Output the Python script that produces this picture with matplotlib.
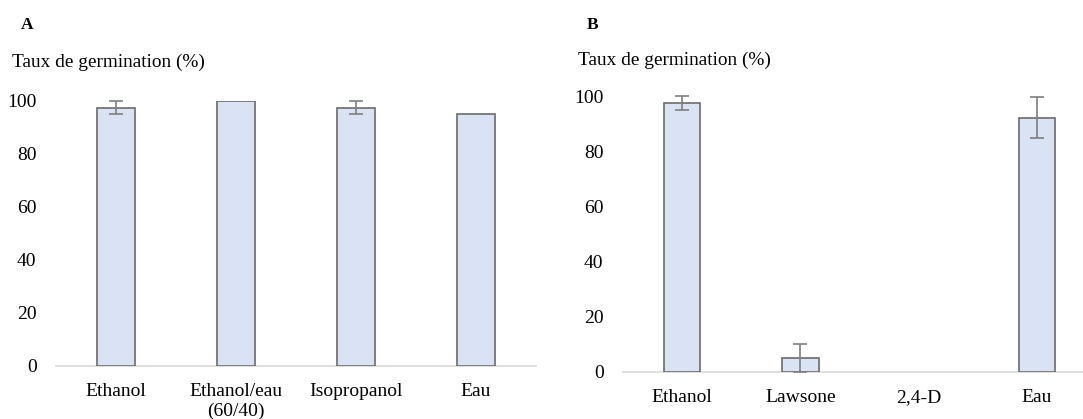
import matplotlib
matplotlib.use("Agg")
from matplotlib import pyplot as plt
import numpy as np

plt.rcParams["font.family"] = ["Liberation Serif", "DejaVu Serif"]

# Panel A : solvants
cat_a = ["Ethanol", "Ethanol/eau\n(60/40)", "Isopropanol", "Eau"]
val_a = [97.5, 100, 97.5, 95]
err_a = [2.5, 0, 2.5, 0]

# Panel B : traitements
cat_b = ["Ethanol", "Lawsone", "2,4-D", "Eau"]
val_b = [97.5, 5, 0, 92.2]
err_b = [2.5, 5, 0, 7.5]

y_ticks = [0, 20, 40, 60, 80, 100]

bar_color = "#dae3f3"
edge_color = "#6b6b6b"
err_color = "#7f7f7f"
axis_color = "#d9d9d9"

fig = plt.figure(figsize=(10.83, 4.19), dpi=100)


def draw_panel(ax, cats, vals, errs):
    x = np.arange(len(cats))
    # no outline for empty bars (2,4-D)
    lw = [1.2 if v > 0 else 0 for v in vals]
    ax.bar(x, vals, width=0.31, color=bar_color, edgecolor=edge_color,
           linewidth=lw, zorder=2)
    # error bars only where there is one
    for xi, v, e in zip(x, vals, errs):
        if e > 0:
            ax.errorbar(xi, v, yerr=e, fmt="none", ecolor=err_color,
                        elinewidth=1.2, capsize=5, capthick=1.2,
                        zorder=3, clip_on=False)
    ax.set_xlim(-0.5, len(cats) - 0.5)
    ax.set_ylim(0, 100)
    ax.set_xticks(x)
    ax.set_xticklabels(cats, fontsize=14, linespacing=1.2)
    ax.set_yticks(y_ticks)
    ax.tick_params(axis="y", labelsize=14, length=0, pad=14)
    ax.tick_params(axis="x", length=0, pad=12)
    for s in ["top", "right", "left"]:
        ax.spines[s].set_visible(False)
    ax.spines["bottom"].set_color(axis_color)
    ax.spines["bottom"].set_linewidth(1.2)
    ax.spines["bottom"].set_zorder(1)


ax_a = fig.add_axes([0.0517, 0.1265, 0.4432, 0.6325])
draw_panel(ax_a, cat_a, val_a, err_a)

ax_b = fig.add_axes([0.5753, 0.1122, 0.4367, 0.658])
draw_panel(ax_b, cat_b, val_b, err_b)

# panel letters and y titles
fig.text(21 / 1083, 1 - 25 / 419, "A", fontsize=12.5, fontweight="bold", va="center")
fig.text(12 / 1083, 1 - 62 / 419, "Taux de germination (%)", fontsize=13.9, va="center")
fig.text(587 / 1083, 1 - 25 / 419, "B", fontsize=12.5, fontweight="bold", va="center")
fig.text(578 / 1083, 1 - 60 / 419, "Taux de germination (%)", fontsize=13.9, va="center")

fig.savefig("out.png", dpi=100)
